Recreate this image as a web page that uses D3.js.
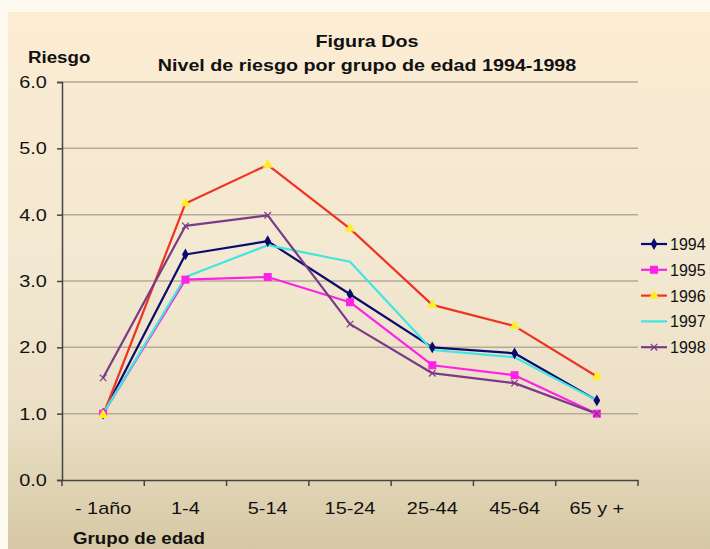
<!DOCTYPE html>
<html>
<head>
<meta charset="utf-8">
<script src="https://cdn.jsdelivr.net/npm/d3@7"></script>
<style>
  body { margin: 0; background: #fffaf0; }
  text { font-family: "Liberation Sans", Arial, sans-serif; fill: #111; }
</style>
</head>
<body>
<div id="chart-area"></div>
<script>

// DATA ---------------------------------------------------------
var grupos = ["- 1año", "1-4", "5-14", "15-24", "25-44", "45-64", "65 y +"];
var anios = ["1994", "1995", "1996", "1997", "1998"];
var riesgo1994 = [1.0, 3.4, 3.6, 2.8, 2.0, 1.91, 1.2];
var riesgo1995 = [1.0, 3.02, 3.06, 2.68, 1.73, 1.58, 1.0];
var riesgo1996 = [0.98, 4.17, 4.75, 3.79, 2.64, 2.32, 1.56];
var riesgo1997 = [1.0, 3.06, 3.54, 3.29, 1.96, 1.85, 1.2];
var riesgo1998 = [1.54, 3.83, 3.99, 2.35, 1.61, 1.46, 1.0];
var yTicks = [0, 1, 2, 3, 4, 5, 6];

var series = [riesgo1994, riesgo1995, riesgo1996, riesgo1997, riesgo1998];
var lineColors = ["#0a0a6e", "#ff22e6", "#ee3322", "#40e6e0", "#7a3a86"];
var markerColors = ["#0a0a6e", "#ff22e6", "#ffee22", "#40e6e0", "#7a3a86"];
var markerTypes = ["diamond", "square", "triangle", "none", "cross"];

var margin = { left: 62, right: 72, top: 82, bottom: 69 };
var width = 710 - margin.left - margin.right;
var height = 549 - margin.top - margin.bottom;
var stretch = 1.17; // the picture's text is a bit wider than normal

// SVG + BACKGROUND ---------------------------------------------
var svg = d3.select("#chart-area").append("svg")
    .attr("width", 710)
    .attr("height", 549);

var grad = svg.append("defs").append("linearGradient")
    .attr("id", "bg")
    .attr("x1", 0).attr("y1", 0).attr("x2", 0).attr("y2", 1);
grad.append("stop").attr("offset", "0%").attr("stop-color", "#fcecd3");
grad.append("stop").attr("offset", "45%").attr("stop-color", "#f3e8d1");
grad.append("stop").attr("offset", "75%").attr("stop-color", "#ebe0c6");
grad.append("stop").attr("offset", "100%").attr("stop-color", "#d6c8a4");

svg.append("rect")
    .attr("x", 8).attr("y", 12)
    .attr("width", 702).attr("height", 537)
    .attr("fill", "url(#bg)");

var g = svg.append("g")
    .attr("transform", "translate(" + margin.left + "," + margin.top + ")");

// SCALES -------------------------------------------------------
var x = d3.scaleBand().domain(grupos).range([0, width]);
var y = d3.scaleLinear().domain([0, 6]).range([height, 0]);

// GRID ---------------------------------------------------------
g.selectAll(".grid").data(yTicks.slice(1)).enter().append("line")
    .attr("x1", 0).attr("x2", width)
    .attr("y1", d => y(d)).attr("y2", d => y(d))
    .attr("stroke", "#b3aa98")
    .attr("stroke-width", 1.5);

// AXES ---------------------------------------------------------
var yAxis = g.append("g")
    .call(d3.axisLeft(y).tickValues(yTicks).tickFormat(d3.format(".1f")).tickSize(5).tickPadding(8));
var xAxis = g.append("g")
    .attr("transform", "translate(0," + height + ")")
    .call(d3.axisBottom(x).tickSize(0).tickPadding(22));
// ticks between categories
g.selectAll(".xtick").data(d3.range(grupos.length + 1)).enter().append("line")
    .attr("x1", i => i * x.step()).attr("x2", i => i * x.step())
    .attr("y1", height).attr("y2", height + 6)
    .attr("stroke", "#444").attr("stroke-width", 1.5);

[yAxis, xAxis].forEach(a => {
    a.select(".domain").attr("stroke", "#444").attr("stroke-width", 1.5);
    a.selectAll(".tick line").attr("stroke", "#444").attr("stroke-width", 1.5);
    a.selectAll("text").attr("font-size", "17px").attr("fill", "#111")
        .attr("font-family", "Liberation Sans, Arial, sans-serif")
        .attr("transform", "scale(" + stretch + ",1)");
});

// LINES --------------------------------------------------------
var line = d3.line()
    .x((d, i) => x(grupos[i]) + x.bandwidth() / 2)
    .y(d => y(d));

function drawMarker(sel, type, color, cx, cy) {
    if (type == "diamond") {
        sel.append("path").attr("d", d3.symbol(d3.symbolDiamond, 40)())
            .attr("transform", "translate(" + cx + "," + cy + ")").attr("fill", color);
    } else if (type == "square") {
        sel.append("rect").attr("x", cx - 4).attr("y", cy - 4)
            .attr("width", 8).attr("height", 8).attr("fill", color);
    } else if (type == "triangle") {
        sel.append("path").attr("d", d3.symbol(d3.symbolTriangle, 45)())
            .attr("transform", "translate(" + cx + "," + cy + ")").attr("fill", color);
    } else if (type == "cross") {
        sel.append("path").attr("d", d3.symbol(d3.symbolTimes, 30)())
            .attr("transform", "translate(" + cx + "," + cy + ")")
            .attr("fill", "none").attr("stroke", color).attr("stroke-width", 1.2);
    }
}

series.forEach((s, k) => {
    g.append("path")
        .datum(s)
        .attr("fill", "none")
        .attr("stroke", lineColors[k])
        .attr("stroke-width", 2.2)
        .attr("stroke-linejoin", "round")
        .attr("d", line);
});
series.forEach((s, k) => {
    var mg = g.append("g");
    s.forEach((v, i) => {
        drawMarker(mg, markerTypes[k], markerColors[k], x(grupos[i]) + x.bandwidth() / 2, y(v));
    });
});

// LEGEND -------------------------------------------------------
var legend = svg.append("g").attr("transform", "translate(641,244)");
anios.forEach((a, k) => {
    var ly = k * 25.8;
    legend.append("line")
        .attr("x1", 0).attr("x2", 26).attr("y1", ly).attr("y2", ly)
        .attr("stroke", lineColors[k]).attr("stroke-width", 2.2);
    drawMarker(legend, markerTypes[k], markerColors[k], 13, ly);
    legend.append("text")
        .attr("x", 29).attr("y", ly + 6)
        .attr("font-size", "16px")
        .text(a);
});

// TITLES -------------------------------------------------------
function label(tx, ty, size, sx, anchor, txt) {
    svg.append("text")
        .attr("transform", "translate(" + tx + "," + ty + ") scale(" + sx + ",1)")
        .attr("text-anchor", anchor)
        .attr("font-size", size).attr("font-weight", "bold")
        .text(txt);
}
label(367, 47, "17px", 1.16, "middle", "Figura Dos");
label(367, 71, "17px", 1.16, "middle", "Nivel de riesgo por grupo de edad 1994-1998");
label(28, 63, "17px", 1.1, "start", "Riesgo");
label(73, 544, "17px", 1.1, "start", "Grupo de edad");

</script>
</body>
</html>
